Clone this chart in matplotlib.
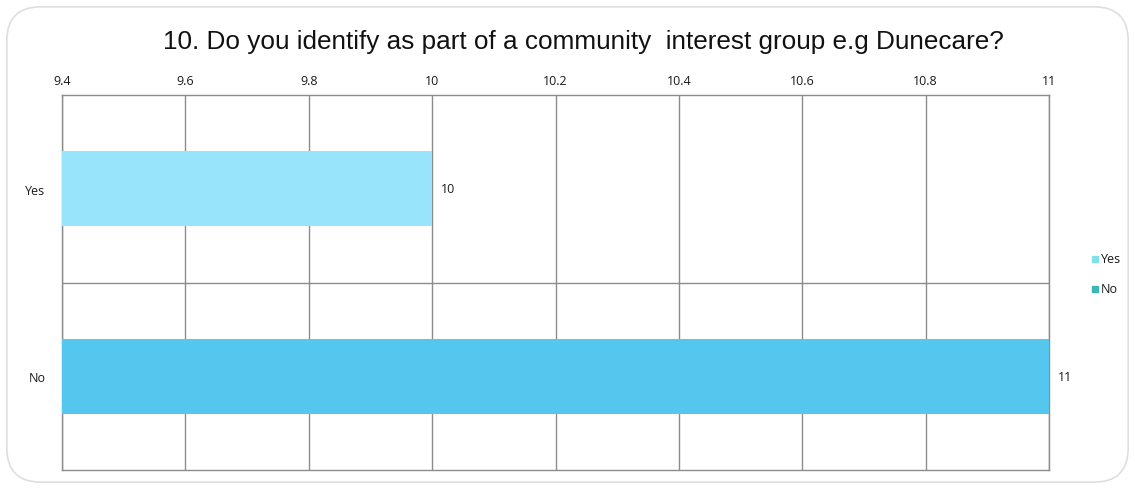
import numpy as np
import matplotlib
matplotlib.use('Agg')
import matplotlib.pyplot as plt
from matplotlib.patches import FancyBboxPatch

categories = ['Yes', 'No']
values = [10, 11]
bar_colors = ['#97E4FB', '#55C6EE']
legend_colors = ['#7FE0E8', '#3BB8B5']
x_ticks = [9.4, 9.6, 9.8, 10, 10.2, 10.4, 10.6, 10.8, 11]
x_tick_labels = ['9.4', '9.6', '9.8', '10', '10.2', '10.4', '10.6', '10.8', '11']

plt.rcParams['font.family'] = ['Liberation Sans', 'DejaVu Sans']
small_font = ['Open Sans', 'DejaVu Sans']

dpi = 100
fig = plt.figure(figsize=(1135 / dpi, 489 / dpi), dpi=dpi)
ax = fig.add_axes([62 / 1135, 1 - 471 / 489, (1049 - 62) / 1135, (471 - 96) / 489])

# rounded frame round the whole chart
frame = FancyBboxPatch((0.006, 0.012), 0.988, 0.972, boxstyle='round,pad=0,rounding_size=0.03',
                       transform=fig.transFigure, fill=False, edgecolor='#dedede', lw=1.2,
                       mutation_aspect=1135 / 489)
fig.patches.append(frame)

y = np.arange(len(categories))
ax.barh(y, values, height=0.4, color=bar_colors, zorder=3)
for yi, v in zip(y, values):
    ax.text(v + 0.015, yi, str(v), va='center', ha='left', fontsize=9,
            color='#1a1a1a', family=small_font)

ax.set_xlim(9.4, 11)
ax.set_ylim(1.5, -0.5)
ax.set_xticks(x_ticks)
ax.set_xticklabels(x_tick_labels, fontsize=9, color='#1a1a1a', family=small_font)
ax.xaxis.tick_top()
ax.tick_params(axis='x', length=0, pad=6)
ax.set_yticks(y)
ax.set_yticklabels(categories, fontsize=9, color='#1a1a1a', family=small_font)
ax.tick_params(axis='y', length=0, pad=12)
ax.grid(axis='x', color='#8c8c8c', lw=1, zorder=0)
ax.axhline(0.5, color='#8c8c8c', lw=1, zorder=0)
for s in ax.spines.values():
    s.set_color('#8c8c8c')
    s.set_linewidth(1)

fig.text(583 / 1135, 0.915, '10. Do you identify as part of a community  interest group e.g Dunecare?',
         ha='center', va='center', fontsize=18.8, color='#111111')

# legend
for i, (c, col) in enumerate(zip(categories, legend_colors)):
    fy = 1 - (259 + 30 * i) / 489
    fig.patches.append(plt.Rectangle((1092 / 1135, fy - 0.008), 6 / 1135, 6 / 489,
                                     transform=fig.transFigure, color=col))
    fig.text(1101 / 1135, fy - 0.002, c, fontsize=9, va='center', ha='left',
             color='#1a1a1a', family=small_font)

plt.savefig('out.png', dpi=dpi)
